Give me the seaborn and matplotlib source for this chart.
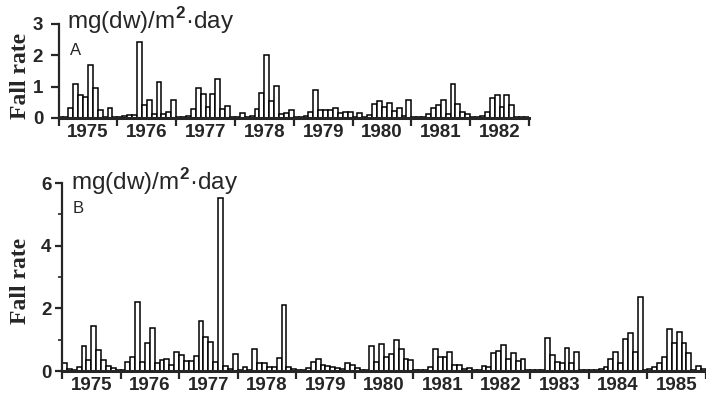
import numpy as np
import pandas as pd
import matplotlib
matplotlib.use("Agg")
import matplotlib.pyplot as plt
import seaborn as sns

sns.set_style("ticks")
plt.rcParams['font.family'] = ['Liberation Sans', 'DejaVu Sans']
plt.rcParams['mathtext.fontset'] = 'custom'
plt.rcParams['mathtext.rm'] = 'Liberation Sans'
plt.rcParams['mathtext.bf'] = 'Liberation Sans:bold'

# ---------------- data (monthly fall rate, mg(dw)/m2·day) ----------------
years_a = ["1975", "1976", "1977", "1978", "1979", "1980", "1981", "1982"]
a_1975 = [0.02, 0.02, 0.31, 1.08, 0.75, 0.68, 1.68, 0.96, 0.24, 0.04, 0.32, 0.03]
a_1976 = [0.03, 0.05, 0.10, 0.10, 2.43, 0.40, 0.56, 0.12, 1.15, 0.12, 0.20, 0.56]
a_1977 = [0.03, 0.03, 0.05, 0.29, 0.97, 0.77, 0.35, 0.78, 1.23, 0.30, 0.37, 0.03]
a_1978 = [0.03, 0.16, 0.03, 0.05, 0.30, 0.80, 2.00, 0.55, 1.02, 0.12, 0.15, 0.26]
a_1979 = [0.02, 0.02, 0.05, 0.18, 0.90, 0.25, 0.27, 0.27, 0.33, 0.15, 0.20, 0.20]
a_1980 = [0.03, 0.15, 0.03, 0.11, 0.45, 0.55, 0.35, 0.47, 0.22, 0.32, 0.07, 0.58]
a_1981 = [0.02, 0.02, 0.04, 0.14, 0.31, 0.40, 0.58, 0.13, 1.08, 0.45, 0.20, 0.14]
a_1982 = [0.03, 0.04, 0.06, 0.19, 0.65, 0.73, 0.35, 0.75, 0.40, 0.04, 0.04, 0.03]

years_b = ["1975", "1976", "1977", "1978", "1979", "1980", "1981", "1982",
           "1983", "1984", "1985"]
b_1975 = [0.27, 0.07, 0.02, 0.13, 0.79, 0.34, 1.45, 0.68, 0.34, 0.17, 0.10, 0.02]
b_1976 = [0.02, 0.28, 0.45, 2.19, 0.30, 0.90, 1.37, 0.26, 0.36, 0.38, 0.20, 0.60]
b_1977 = [0.51, 0.32, 0.32, 0.48, 1.60, 1.10, 0.91, 0.30, 5.53, 0.16, 0.06, 0.53]
b_1978 = [0.03, 0.14, 0.03, 0.70, 0.24, 0.24, 0.14, 0.12, 0.43, 2.10, 0.12, 0.07]
b_1979 = [0.02, 0.03, 0.10, 0.30, 0.38, 0.19, 0.17, 0.14, 0.08, 0.06, 0.27, 0.19]
b_1980 = [0.10, 0.03, 0.02, 0.81, 0.30, 0.86, 0.46, 0.53, 0.99, 0.70, 0.37, 0.35]
b_1981 = [0.02, 0.02, 0.02, 0.14, 0.70, 0.46, 0.44, 0.60, 0.19, 0.19, 0.06, 0.10]
b_1982 = [0.02, 0.02, 0.16, 0.12, 0.58, 0.64, 0.83, 0.37, 0.56, 0.32, 0.37, 0.03]
b_1983 = [0.02, 0.02, 0.02, 1.04, 0.51, 0.30, 0.24, 0.74, 0.24, 0.62, 0.03, 0.02]
b_1984 = [0.02, 0.02, 0.05, 0.12, 0.38, 0.60, 0.24, 1.01, 1.20, 0.62, 2.35, 0.02]
b_1985 = [0.05, 0.12, 0.27, 0.44, 1.33, 0.88, 1.26, 0.90, 0.58, 0.02, 0.16, 0.05]

series_a = [a_1975, a_1976, a_1977, a_1978, a_1979, a_1980, a_1981, a_1982]
series_b = [b_1975, b_1976, b_1977, b_1978, b_1979, b_1980, b_1981, b_1982,
            b_1983, b_1984, b_1985]

unit_label = r"mg(dw)/m$^{\mathbf{2}}$·day"
ylabel = "Fall rate"

# ---------------- figure ----------------
W, H = 706, 401
fig = plt.figure(figsize=(W / 100, H / 100), dpi=100)


def px_rect(x0, x1, ytop, ybot):
    return [x0 / W, 1 - ybot / H, (x1 - x0) / W, (ybot - ytop) / H]


ax_a = fig.add_axes(px_rect(58.5, 529, 24, 118))
ax_b = fig.add_axes(px_rect(62, 706, 183, 371))


def draw(ax, series, years, ymax, yticks, yminor, ticklen, tickpad):
    vals = np.concatenate(series)
    df = pd.DataFrame({"m": np.arange(len(vals)), "rate": vals})
    sns.barplot(data=df, x="m", y="rate", color="white", saturation=1,
                edgecolor="black", linewidth=1.1, width=1.0,
                errorbar=None, ax=ax)
    n = len(vals)
    ax.set_xlim(-0.5, n - 0.5)
    ax.set_ylim(0, ymax)
    ny = len(years)
    ax.set_xticks([12 * k - 0.5 for k in range(ny + 1)])
    ax.set_xticklabels([])
    ax.set_xticks([12 * k + 5.5 for k in range(ny)], minor=True)
    ax.set_xticklabels(years, minor=True, fontsize=13.5, fontweight="bold")
    ax.tick_params(axis="x", which="major", length=6, width=1.6,
                   direction="out")
    ax.tick_params(axis="x", which="minor", length=0, pad=4)
    ax.set_yticks(yticks)
    ax.set_yticklabels([str(t) for t in yticks], fontsize=13.5,
                       fontweight="bold")
    if yminor:
        ax.set_yticks(yminor, minor=True)
        ax.tick_params(axis="y", which="minor", length=3, width=1.2)
    ax.tick_params(axis="y", which="major", length=ticklen, width=1.6,
                   pad=tickpad)
    ax.set_xlabel("")
    ax.set_ylabel("")
    for s in ["top", "right"]:
        ax.spines[s].set_visible(False)
    ax.spines["left"].set_linewidth(1.6)
    ax.spines["bottom"].set_linewidth(2.2)


draw(ax_a, series_a, years_a, 3.0, [0, 1, 2, 3], None, 6, 5)
draw(ax_b, series_b, years_b, 6.0, [0, 2, 4, 6], [1, 3, 5], 5, 2.5)

# titles / panel letters / y labels
fig.text(67 / W, 1 - 29 / H, unit_label, fontsize=17.5, va="baseline",
         ha="left")
fig.text(70 / W, 1 - 55 / H, "A", fontsize=12, va="baseline", ha="left")
fig.text(71 / W, 1 - 190 / H, unit_label, fontsize=17.5, va="baseline",
         ha="left")
fig.text(73 / W, 1 - 213 / H, "B", fontsize=12, va="baseline", ha="left")

for yc in (76, 281):
    fig.text(21 / W, 1 - yc / H, ylabel, rotation=90, ha="center",
             va="center", fontsize=17, fontweight="bold",
             family=["Liberation Serif", "DejaVu Serif"])

fig.savefig("out.png", dpi=100)
